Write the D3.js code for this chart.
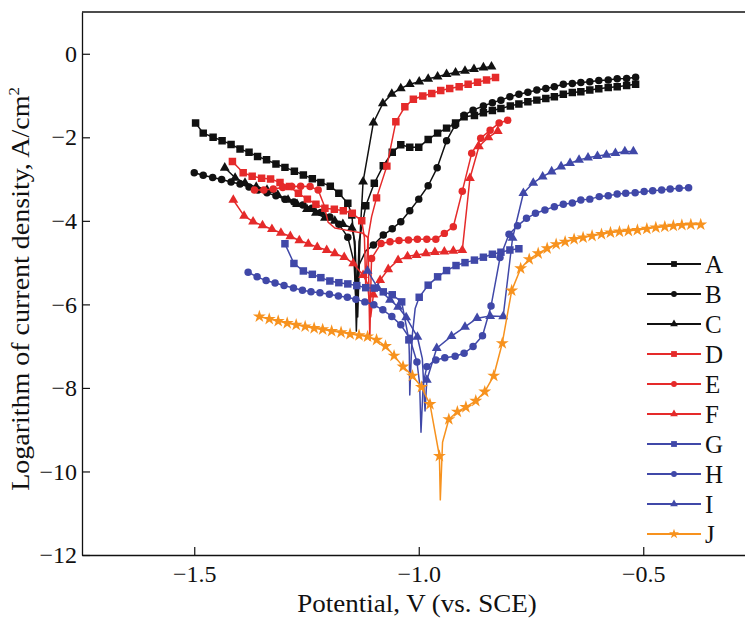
<!DOCTYPE html>
<html>
<head>
<meta charset="utf-8">
<script src="https://cdn.jsdelivr.net/npm/d3@7"></script>
<style>
body { margin: 0; background: #fff; }
svg text { font-family: "Liberation Serif", "Times New Roman", serif; fill: #111; }
</style>
</head>
<body>
<div id="chart"></div>
<script>
// potential (V vs SCE), log i (A/cm2)
// *_cath = cathodic branch (markers), *_dip = spike at Ecorr (no markers), *_anod = anodic branch (markers)
var A_cath = [[-1.497,-1.66],[-1.480,-1.90],[-1.458,-2.00],[-1.438,-2.08],[-1.418,-2.17],[-1.398,-2.28],[-1.378,-2.36],[-1.359,-2.46],[-1.339,-2.54],[-1.318,-2.64],[-1.298,-2.72],[-1.277,-2.81],[-1.257,-2.90],[-1.237,-2.99],[-1.218,-3.08],[-1.197,-3.17],[-1.178,-3.34],[-1.158,-3.58],[-1.149,-3.86]];
var A_dip  = [[-1.143,-4.6],[-1.139,-6.64],[-1.133,-4.5]];
var A_anod = [[-1.118,-3.64],[-1.099,-3.10],[-1.079,-2.68],[-1.059,-2.36],[-1.040,-2.18],[-1.020,-2.24],[-1.000,-2.24],[-0.979,-2.05],[-0.958,-1.90],[-0.938,-1.78],[-0.918,-1.66],[-0.899,-1.51],[-0.876,-1.48],[-0.856,-1.41],[-0.836,-1.36],[-0.817,-1.31],[-0.796,-1.25],[-0.777,-1.20],[-0.757,-1.15],[-0.737,-1.11],[-0.717,-1.07],[-0.698,-1.03],[-0.678,-0.97],[-0.658,-0.93],[-0.639,-0.91],[-0.619,-0.87],[-0.599,-0.84],[-0.578,-0.81],[-0.558,-0.79],[-0.537,-0.76],[-0.517,-0.73]];

var B_cath = [[-1.500,-2.85],[-1.480,-2.91],[-1.459,-2.96],[-1.439,-3.01],[-1.418,-3.07],[-1.398,-3.12],[-1.378,-3.19],[-1.358,-3.26],[-1.338,-3.33],[-1.318,-3.40],[-1.298,-3.48],[-1.278,-3.55],[-1.258,-3.62],[-1.238,-3.70],[-1.218,-3.80],[-1.198,-3.91],[-1.178,-4.08],[-1.158,-4.39]];
var B_dip  = [[-1.144,-5.0],[-1.140,-5.9],[-1.135,-5.1],[-1.118,-4.72]];
var B_anod = [[-1.101,-4.58],[-1.079,-4.34],[-1.059,-4.19],[-1.040,-4.02],[-1.020,-3.76],[-1.000,-3.48],[-0.979,-3.16],[-0.959,-2.73],[-0.938,-2.08],[-0.919,-1.71],[-0.899,-1.47],[-0.879,-1.35],[-0.856,-1.25],[-0.836,-1.17],[-0.817,-1.11],[-0.797,-1.03],[-0.777,-0.97],[-0.757,-0.92],[-0.737,-0.87],[-0.717,-0.83],[-0.698,-0.79],[-0.678,-0.73],[-0.658,-0.71],[-0.639,-0.69],[-0.619,-0.67],[-0.599,-0.64],[-0.578,-0.63],[-0.558,-0.60],[-0.537,-0.59],[-0.517,-0.56]];

var C_cath = [[-1.432,-2.73],[-1.409,-2.97],[-1.387,-3.09],[-1.362,-3.19],[-1.338,-3.26],[-1.314,-3.38],[-1.291,-3.50],[-1.271,-3.60],[-1.249,-3.72],[-1.229,-3.81],[-1.209,-3.93],[-1.187,-4.00],[-1.169,-4.08],[-1.149,-4.17]];
var C_dip  = [[-1.142,-4.5],[-1.136,-6.3],[-1.130,-4.2]];
var C_anod = [[-1.124,-3.06],[-1.101,-1.65],[-1.080,-1.19],[-1.060,-0.96],[-1.040,-0.83],[-1.020,-0.73],[-0.999,-0.67],[-0.979,-0.60],[-0.958,-0.55],[-0.938,-0.49],[-0.918,-0.45],[-0.897,-0.41],[-0.877,-0.37],[-0.856,-0.33],[-0.838,-0.31]];

var D_cath = [[-1.415,-2.58],[-1.391,-2.85],[-1.371,-2.93],[-1.350,-2.98],[-1.330,-3.00],[-1.309,-3.08],[-1.288,-3.18],[-1.268,-3.34],[-1.248,-3.48],[-1.229,-3.60],[-1.209,-3.70],[-1.188,-3.72],[-1.168,-3.76],[-1.148,-3.82],[-1.127,-4.00]];
var D_dip  = [[-1.121,-4.4],[-1.118,-5.6],[-1.113,-4.4],[-1.105,-3.9]];
var D_anod = [[-1.094,-3.45],[-1.071,-2.69],[-1.051,-1.63],[-1.031,-1.27],[-1.012,-1.09],[-0.991,-1.01],[-0.971,-0.95],[-0.951,-0.88],[-0.931,-0.83],[-0.910,-0.79],[-0.890,-0.73],[-0.869,-0.68],[-0.849,-0.63],[-0.829,-0.57]];

var E_cath = [[-1.366,-3.26],[-1.345,-3.26],[-1.324,-3.24],[-1.303,-3.20],[-1.283,-3.18],[-1.263,-3.17],[-1.242,-3.18],[-1.224,-3.26]];
var E_dip  = [[-1.211,-3.62],[-1.202,-4.03],[-1.187,-4.17],[-1.153,-4.24],[-1.126,-4.29],[-1.113,-4.4],[-1.109,-6.85],[-1.106,-5.2]];
var E_anod = [[-1.105,-4.90],[-1.084,-4.54],[-1.064,-4.50],[-1.044,-4.47],[-1.023,-4.46],[-1.003,-4.44],[-0.982,-4.44],[-0.962,-4.44],[-0.943,-4.30],[-0.923,-4.14],[-0.903,-3.29],[-0.882,-2.38],[-0.862,-2.02],[-0.841,-1.83],[-0.821,-1.66],[-0.802,-1.59]];

var F_cath = [[-1.413,-3.50],[-1.389,-3.88],[-1.369,-4.02],[-1.348,-4.11],[-1.327,-4.20],[-1.307,-4.29],[-1.286,-4.37],[-1.266,-4.47],[-1.246,-4.55],[-1.226,-4.63],[-1.205,-4.70],[-1.187,-4.78],[-1.166,-4.87],[-1.146,-5.02],[-1.124,-5.30]];
var F_dip  = [[-1.114,-5.5],[-1.107,-6.3]];
var F_anod = [[-1.101,-5.77],[-1.086,-5.42],[-1.068,-5.16],[-1.046,-4.94],[-1.025,-4.85],[-1.005,-4.82],[-0.984,-4.78],[-0.964,-4.75],[-0.943,-4.74],[-0.923,-4.72],[-0.903,-4.70],[-0.886,-2.98],[-0.866,-2.22],[-0.845,-2.00],[-0.824,-1.85]];

var G_cath = [[-1.298,-4.55],[-1.278,-5.02],[-1.257,-5.20],[-1.237,-5.28],[-1.218,-5.36],[-1.198,-5.44],[-1.178,-5.48],[-1.158,-5.51],[-1.138,-5.55],[-1.118,-5.60],[-1.099,-5.61],[-1.079,-5.70],[-1.059,-5.77],[-1.038,-5.94],[-1.022,-6.85]];
var G_dip  = [[-1.021,-7.2],[-1.020,-8.17],[-1.015,-6.8],[-1.008,-6.1]];
var G_anod = [[-0.999,-5.83],[-0.979,-5.54],[-0.958,-5.34],[-0.938,-5.19],[-0.917,-5.07],[-0.897,-5.00],[-0.876,-4.94],[-0.856,-4.87],[-0.836,-4.80],[-0.817,-4.75],[-0.797,-4.70],[-0.777,-4.67]];

var H_cath = [[-1.380,-5.23],[-1.360,-5.34],[-1.340,-5.43],[-1.320,-5.49],[-1.300,-5.55],[-1.279,-5.61],[-1.259,-5.66],[-1.240,-5.70],[-1.220,-5.72],[-1.199,-5.76],[-1.179,-5.80],[-1.159,-5.83],[-1.140,-5.88],[-1.120,-5.94],[-1.100,-6.01],[-1.080,-6.13],[-1.060,-6.29],[-1.040,-6.49],[-1.020,-6.81],[-1.004,-7.38]];
var H_dip  = [[-0.998,-7.9],[-0.995,-9.06],[-0.990,-7.9]];
var H_anod = [[-0.982,-7.49],[-0.962,-7.33],[-0.942,-7.28],[-0.919,-7.24],[-0.899,-7.17],[-0.879,-7.01],[-0.858,-6.75],[-0.839,-6.04],[-0.819,-4.88],[-0.799,-4.32],[-0.780,-4.12],[-0.760,-3.94],[-0.740,-3.82],[-0.719,-3.74],[-0.698,-3.66],[-0.678,-3.60],[-0.658,-3.57],[-0.639,-3.50],[-0.619,-3.48],[-0.598,-3.42],[-0.578,-3.40],[-0.558,-3.36],[-0.539,-3.34],[-0.518,-3.33],[-0.498,-3.30],[-0.479,-3.28],[-0.459,-3.26],[-0.440,-3.24],[-0.420,-3.22],[-0.399,-3.21]];

var I_cath = [[-1.114,-5.20],[-1.091,-5.61],[-1.064,-5.89],[-1.046,-6.06],[-1.028,-6.31],[-1.003,-6.78]];
var I_dip  = [[-0.992,-7.3],[-0.986,-8.55]];
var I_anod = [[-0.982,-7.81],[-0.960,-7.05],[-0.927,-6.76],[-0.897,-6.54],[-0.870,-6.33],[-0.841,-6.28],[-0.812,-6.29],[-0.791,-4.41],[-0.767,-3.34],[-0.745,-3.09],[-0.724,-2.94],[-0.704,-2.82],[-0.683,-2.70],[-0.663,-2.62],[-0.643,-2.54],[-0.623,-2.49],[-0.602,-2.45],[-0.582,-2.42],[-0.562,-2.38],[-0.541,-2.34],[-0.522,-2.34]];

var J_cath = [[-1.355,-6.29],[-1.333,-6.35],[-1.313,-6.40],[-1.293,-6.45],[-1.273,-6.49],[-1.253,-6.53],[-1.233,-6.57],[-1.214,-6.60],[-1.194,-6.64],[-1.173,-6.67],[-1.153,-6.71],[-1.133,-6.74],[-1.114,-6.77],[-1.094,-6.85],[-1.074,-7.00],[-1.055,-7.23],[-1.035,-7.49],[-1.014,-7.71],[-0.994,-7.98],[-0.975,-8.39],[-0.954,-9.63]];
var J_dip  = [[-0.952,-10.68],[-0.947,-9.3]];
var J_anod = [[-0.933,-8.75],[-0.914,-8.57],[-0.895,-8.46],[-0.873,-8.31],[-0.853,-8.09],[-0.833,-7.71],[-0.814,-6.93],[-0.793,-5.67],[-0.773,-5.14],[-0.754,-4.92],[-0.734,-4.78],[-0.714,-4.66],[-0.694,-4.56],[-0.674,-4.50],[-0.654,-4.44],[-0.634,-4.40],[-0.614,-4.36],[-0.593,-4.32],[-0.573,-4.28],[-0.553,-4.26],[-0.533,-4.24],[-0.513,-4.22],[-0.492,-4.19],[-0.472,-4.16],[-0.452,-4.14],[-0.433,-4.12],[-0.414,-4.10],[-0.394,-4.09],[-0.372,-4.09]];

var names   = ["A","B","C","D","E","F","G","H","I","J"];
var xTicks  = [-1.5, -1.0, -0.5];
var yTicks  = [0, -2, -4, -6, -8, -10, -12];

var black = "#111111", red = "#e52a2a", blue = "#4048a8", orange = "#f7921e";
var series = [
  { name: "A", cath: A_cath, dip: A_dip, anod: A_anod, color: black,  sym: d3.symbolSquare },
  { name: "B", cath: B_cath, dip: B_dip, anod: B_anod, color: black,  sym: d3.symbolCircle },
  { name: "C", cath: C_cath, dip: C_dip, anod: C_anod, color: black,  sym: d3.symbolTriangle },
  { name: "D", cath: D_cath, dip: D_dip, anod: D_anod, color: red,    sym: d3.symbolSquare },
  { name: "E", cath: E_cath, dip: E_dip, anod: E_anod, color: red,    sym: d3.symbolCircle },
  { name: "F", cath: F_cath, dip: F_dip, anod: F_anod, color: red,    sym: d3.symbolTriangle },
  { name: "G", cath: G_cath, dip: G_dip, anod: G_anod, color: blue,   sym: d3.symbolSquare },
  { name: "H", cath: H_cath, dip: H_dip, anod: H_anod, color: blue,   sym: d3.symbolCircle },
  { name: "I", cath: I_cath, dip: I_dip, anod: I_anod, color: blue,   sym: d3.symbolTriangle },
  { name: "J", cath: J_cath, dip: J_dip, anod: J_anod, color: orange, sym: d3.symbolStar }
];
function sizeOf(sym) {
  if (sym === d3.symbolSquare) return 56;
  if (sym === d3.symbolCircle) return 44;
  if (sym === d3.symbolTriangle) return 42;
  return 52;
}

var svgW = 745, svgH = 620;
var padL = 82, padT = 12, padB = 555;
var x = d3.scaleLinear().domain([-1.75, -0.25]).range([padL, padL + 1.5 * 449]);
var y = d3.scaleLinear().domain([-12, 1]).range([padB, padT]);

var svg = d3.select("#chart").append("svg").attr("width", svgW).attr("height", svgH);

svg.append("defs").append("clipPath").attr("id", "plot")
  .append("rect").attr("x", padL).attr("y", padT).attr("width", x.range()[1] - padL).attr("height", padB - padT);

var fmt = d3.format(".1f");
var gx = svg.append("g").attr("transform", "translate(0," + padB + ")")
  .call(d3.axisBottom(x).tickValues(xTicks).tickFormat(fmt).tickSizeInner(-8).tickSizeOuter(0).tickPadding(10));
var gy = svg.append("g").attr("transform", "translate(" + padL + ",0)")
  .call(d3.axisLeft(y).tickValues(yTicks).tickFormat(d3.format("d")).tickSizeInner(-8).tickSizeOuter(0).tickPadding(5));
[gx, gy].forEach(function(g) {
  g.attr("font-family", "Liberation Serif").attr("font-size", 24);
  g.select(".domain").attr("stroke", "#111").attr("stroke-width", 1.3);
  g.selectAll(".tick line").attr("stroke", "#111").attr("stroke-width", 1.2);
  g.selectAll(".tick text").attr("fill", "#111");
});
svg.append("line").attr("x1", padL).attr("x2", svgW).attr("y1", padT).attr("y2", padT)
  .attr("stroke", "#111").attr("stroke-width", 1.3);

// axis titles
svg.append("text").attr("transform", "translate(417,612) scale(1.08,1)").attr("text-anchor", "middle")
  .attr("font-size", 25).text("Potential, V (vs. SCE)");
var yl = svg.append("text").attr("transform", "translate(29,289) rotate(-90) scale(1.12,1)")
  .attr("text-anchor", "middle").attr("font-size", 25);
yl.append("tspan").text("Logarithm of current density, A/cm");
yl.append("tspan").attr("font-size", 15).attr("dy", -10).text("2");

var line = d3.line().x(function(d) { return x(d[0]); }).y(function(d) { return y(d[1]); });
var plot = svg.append("g").attr("clip-path", "url(#plot)");

series.forEach(function(s) {
  var g = plot.append("g");
  g.append("path").attr("d", line(s.cath.concat(s.dip, s.anod)))
    .attr("fill", "none").attr("stroke", s.color).attr("stroke-width", 1.5).attr("stroke-linejoin", "round");
  g.selectAll("path.m").data(s.cath.concat(s.anod)).enter().append("path").attr("class", "m")
    .attr("transform", function(d) { return "translate(" + x(d[0]) + "," + y(d[1]) + ")"; })
    .attr("d", d3.symbol().type(s.sym).size(sizeOf(s.sym)))
    .attr("fill", s.color);
});

// legend
var leg = svg.append("g").attr("transform", "translate(647,264)");
series.forEach(function(s, i) {
  var r = leg.append("g").attr("transform", "translate(0," + (i * 30) + ")");
  r.append("line").attr("x1", 0).attr("x2", 54).attr("stroke", s.color).attr("stroke-width", 1.8);
  r.append("path").attr("transform", "translate(27,0)")
    .attr("d", d3.symbol().type(s.sym).size(sizeOf(s.sym) * 0.6)).attr("fill", s.color);
  r.append("text").attr("x", 58).attr("y", 9).attr("font-size", 25).text(s.name);
});
</script>
</body>
</html>
